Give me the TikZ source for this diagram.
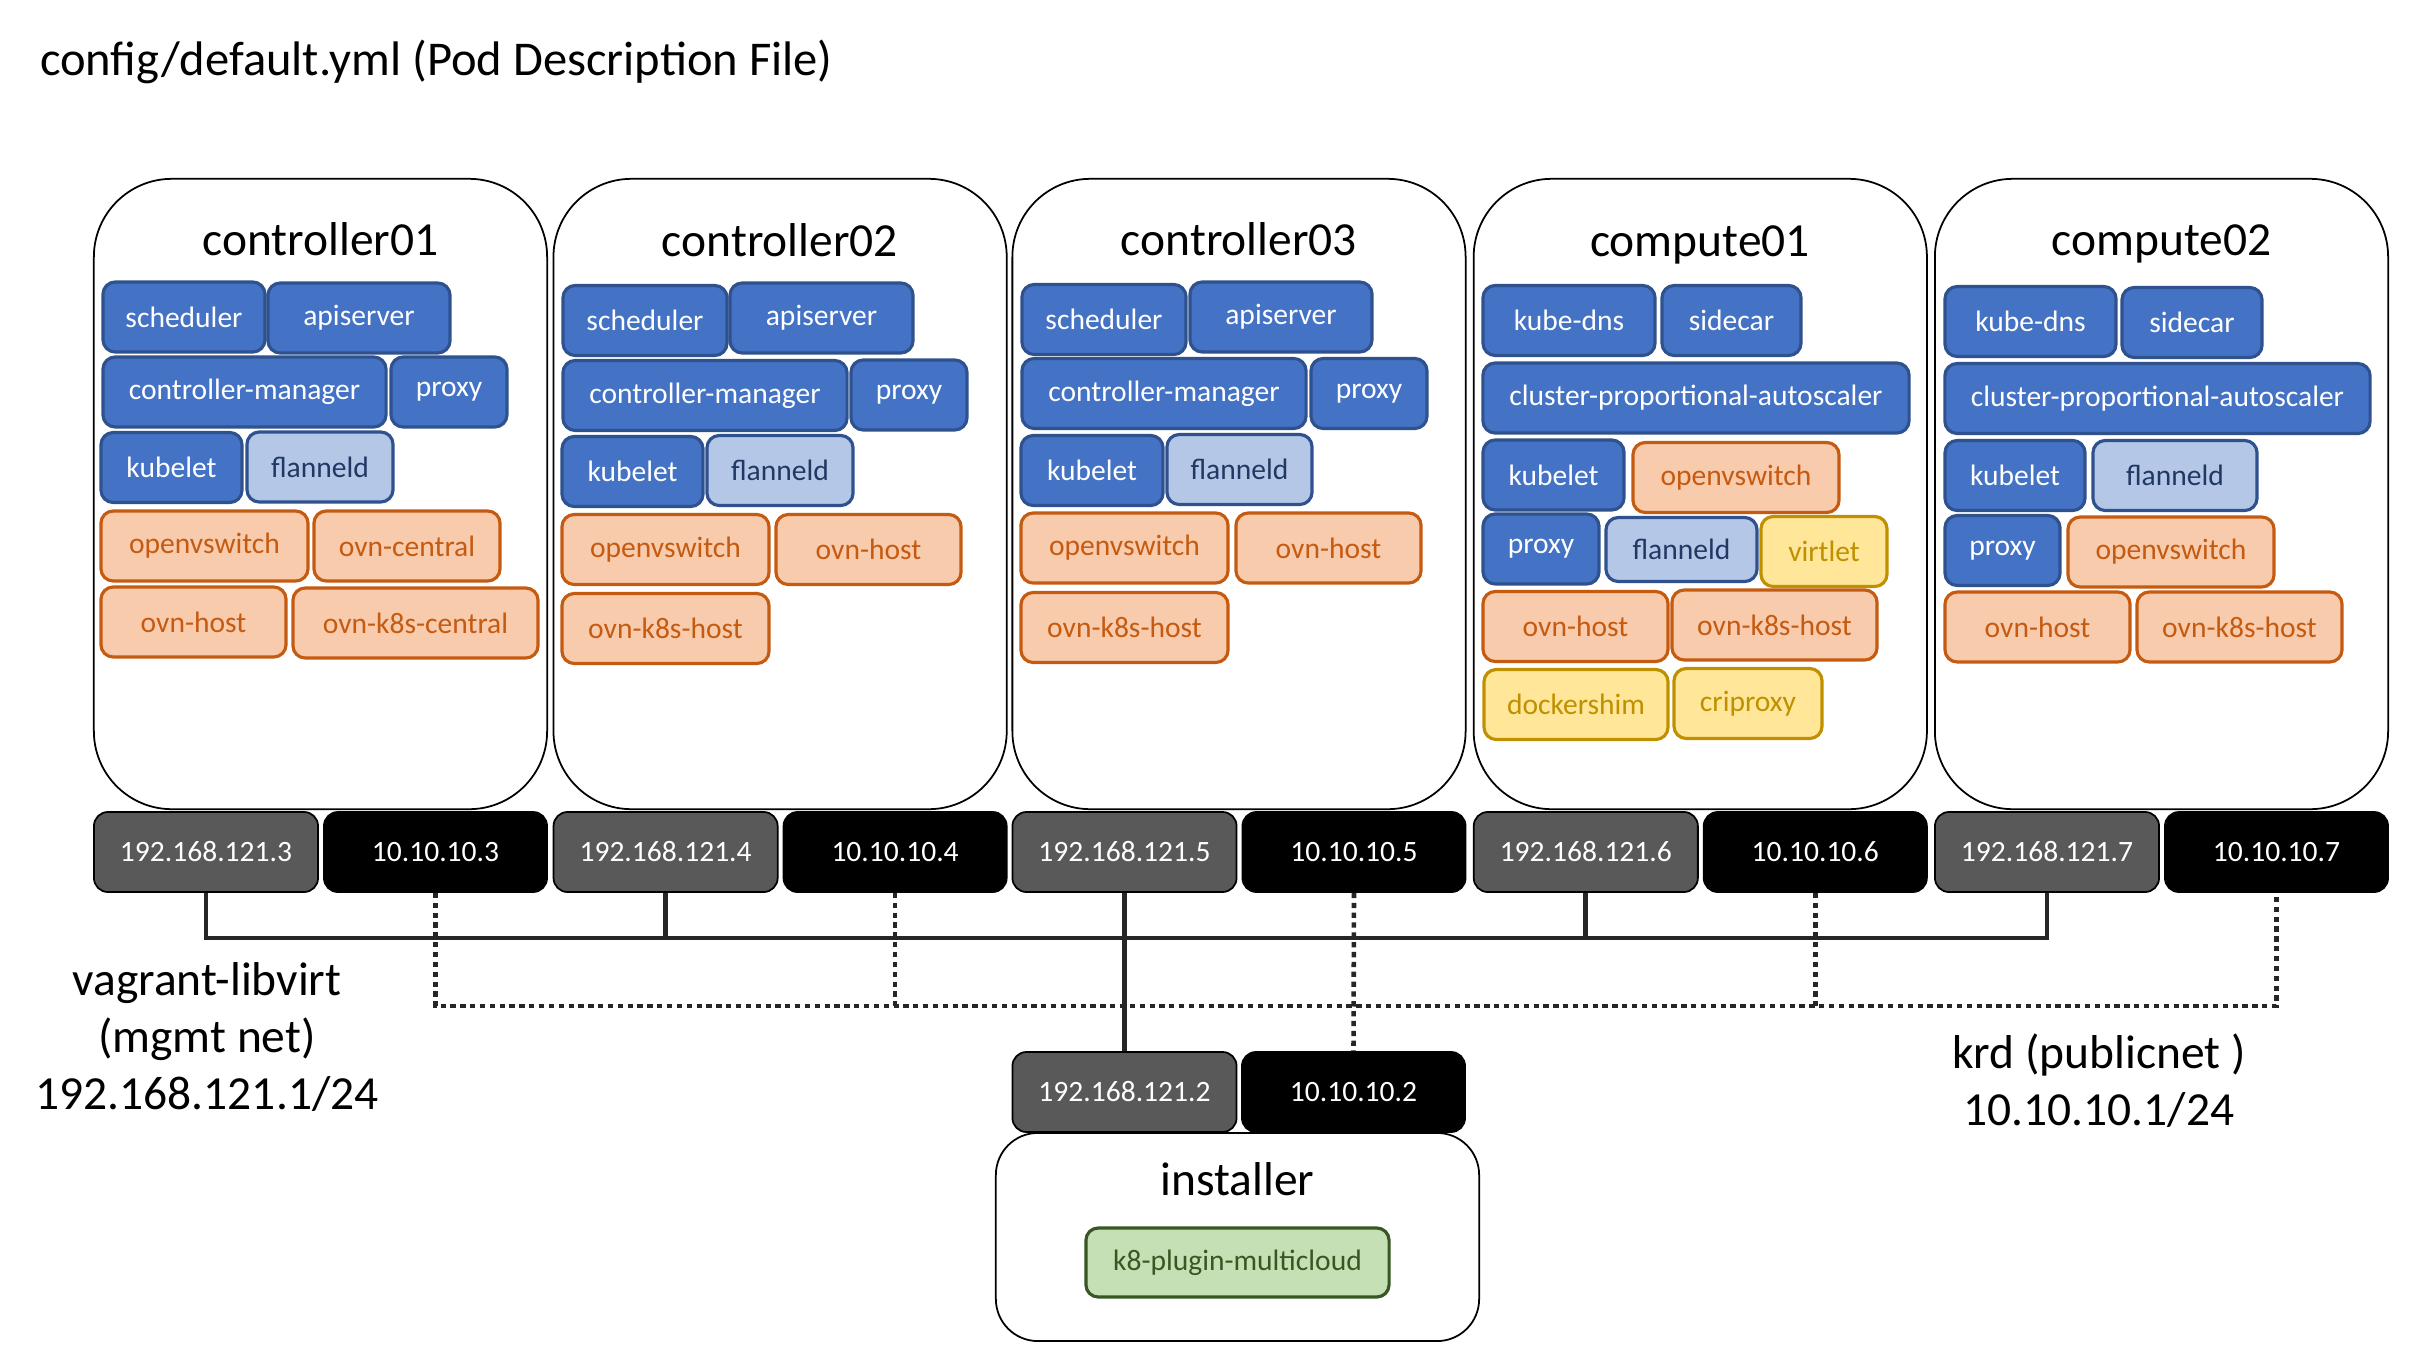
\documentclass[tikz,border=0pt]{standalone}
\usepackage{fontspec}
\setmainfont{Carlito}
\usepackage{tikz}
\newcommand\vmfont{\fontsize{13.5}{16.2}\selectfont}
\newcommand\podfont{\fontsize{8.4}{10}\selectfont}
\definecolor{node_blue}{RGB}{68,114,196}
\definecolor{edge_blue}{RGB}{47,82,143}
\definecolor{node_lblue}{RGB}{180,199,231}
\definecolor{text_lblue}{RGB}{32,56,100}
\definecolor{node_orange}{RGB}{248,203,173}
\definecolor{edge_orange}{RGB}{197,90,17}
\definecolor{node_yell}{RGB}{255,230,153}
\definecolor{edge_yell}{RGB}{191,144,0}
\definecolor{node_green}{RGB}{197,224,180}
\definecolor{edge_green}{RGB}{56,87,35}
\definecolor{ip_gray}{RGB}{89,89,89}
\definecolor{line_gray}{RGB}{38,38,38}

\begin{document}
\begin{tikzpicture}[x=0.01cm,y=-0.01cm,semithick]
    \tikzstyle{vm}=[draw=black,line width=0.5pt,rounded corners=0.78cm,fill=white,minimum width=4.53cm,minimum height=6.3cm,inner sep=0]
    \tikzstyle{vmtitle}=[anchor=base,font=\vmfont,text=black]
    \tikzstyle{pod}=[draw,rounded corners=3.5pt,line width=0.9pt,minimum height=0.7cm,inner sep=0,font=\podfont]
    \tikzstyle{podcore}=[style=pod,fill=node_blue,draw=edge_blue,text=white]
    \tikzstyle{podnet}=[style=pod,fill=node_lblue,draw=edge_blue,text=text_lblue]
    \tikzstyle{podovn}=[style=pod,fill=node_orange,draw=edge_orange,text=edge_orange]
    \tikzstyle{podrt}=[style=pod,fill=node_yell,draw=edge_yell,text=edge_yell]
    \tikzstyle{podplug}=[style=pod,fill=node_green,draw=edge_green,text=edge_green]
    \tikzstyle{ip}=[draw=black,line width=0.5pt,rounded corners=4pt,minimum width=2.24cm,minimum height=0.8cm,inner sep=0,font=\podfont,text=white]
    \tikzstyle{ipmgmt}=[style=ip,fill=ip_gray]
    \tikzstyle{ippub}=[style=ip,fill=black]
    \tikzstyle{mgmtline}=[draw=line_gray,line width=1.4pt]
    \tikzstyle{publine}=[draw=line_gray,line width=1.3pt,dash pattern=on 1.5pt off 1.3pt]
    \tikzstyle{netlabel}=[align=center,font=\vmfont,text=black]

    \useasboundingbox (0,0) rectangle (2432,1360);

    \node[anchor=base west,inner sep=0,font=\fontsize{13.8}{16.2}\selectfont] (title) at (39,75) {config/default.yml (Pod Description File)};

    % virtual machines
    \node[vm] (c01) at (320.5,494) {};
    \node[vm] (c02) at (780.1,494) {};
    \node[vm] (c03) at (1239,494) {};
    \node[vm] (cp01) at (1700.3,494) {};
    \node[vm] (cp02) at (2161.5,494) {};

    \node[vmtitle] (c01t) at (320.5,255) {controller01};
    \node[vmtitle] (c02t) at (780,256) {controller02};
    \node[vmtitle] (c03t) at (1239,255) {controller03};
    \node[vmtitle] (cp01t) at (1700,256) {compute01};
    \node[vmtitle] (cp02t) at (2161.5,255) {compute02};

    % controller01
    \node[podcore,minimum width=1.62cm] (c01a) at (184,317) {scheduler};
    \node[podcore,minimum width=1.82cm] (c01b) at (359,318) {apiserver};
    \node[podcore,minimum width=2.83cm] (c01c) at (244.5,392) {controller-manager};
    \node[podcore,minimum width=1.16cm] (c01d) at (449,392) {proxy};
    \node[podcore,minimum width=1.41cm] (c01e) at (171.5,467.5) {kubelet};
    \node[podnet,minimum width=1.46cm] (c01f) at (320,467) {flanneld};
    \node[podovn,minimum width=2.07cm] (c01g) at (204.5,546) {openvswitch};
    \node[podovn,minimum width=1.86cm] (c01h) at (407,546) {ovn-central};
    \node[podovn,minimum width=1.85cm] (c01i) at (193.5,622) {ovn-host};
    \node[podovn,minimum width=2.45cm] (c01j) at (415.5,623) {ovn-k8s-central};

    % controller02
    \node[podcore,minimum width=1.64cm] (c02a) at (645,320.5) {scheduler};
    \node[podcore,minimum width=1.83cm] (c02b) at (821.5,318) {apiserver};
    \node[podcore,minimum width=2.84cm] (c02c) at (705,395.5) {controller-manager};
    \node[podcore,minimum width=1.16cm] (c02d) at (909,395) {proxy};
    \node[podcore,minimum width=1.41cm] (c02e) at (632.5,471.5) {kubelet};
    \node[podnet,minimum width=1.46cm] (c02f) at (780,470.5) {flanneld};
    \node[podovn,minimum width=2.07cm] (c02g) at (665.5,549.5) {openvswitch};
    \node[podovn,minimum width=1.85cm] (c02h) at (868.5,549.5) {ovn-host};
    \node[podovn,minimum width=2.07cm] (c02i) at (665.5,628.5) {ovn-k8s-host};

    % controller03
    \node[podcore,minimum width=1.64cm] (c03a) at (1104,319.5) {scheduler};
    \node[podcore,minimum width=1.82cm] (c03b) at (1281,317) {apiserver};
    \node[podcore,minimum width=2.84cm] (c03c) at (1164,393.5) {controller-manager};
    \node[podcore,minimum width=1.16cm] (c03d) at (1369,393.5) {proxy};
    \node[podcore,minimum width=1.42cm] (c03e) at (1092,470.5) {kubelet};
    \node[podnet,minimum width=1.45cm] (c03f) at (1239.5,469.5) {flanneld};
    \node[podovn,minimum width=2.07cm] (c03g) at (1124.5,548) {openvswitch};
    \node[podovn,minimum width=1.85cm] (c03h) at (1328.5,548) {ovn-host};
    \node[podovn,minimum width=2.07cm] (c03i) at (1124.5,627.5) {ovn-k8s-host};

    % compute01
    \node[podcore,minimum width=1.72cm] (cp01a) at (1569,320.5) {kube-dns};
    \node[podcore,minimum width=1.39cm] (cp01b) at (1731.5,320.5) {sidecar};
    \node[podcore,minimum width=4.26cm] (cp01c) at (1696,398) {cluster-proportional-autoscaler};
    \node[podcore,minimum width=1.41cm] (cp01d) at (1553.5,475) {kubelet};
    \node[podovn,minimum width=2.06cm] (cp01e) at (1736,477.5) {openvswitch};
    \node[podcore,minimum width=1.16cm] (cp01f) at (1541,549) {proxy};
    \node[podnet,minimum width=1.51cm,minimum height=0.64cm] (cp01g) at (1681.5,549.5) {flanneld};
    \node[podrt,minimum width=1.26cm] (cp01h) at (1824,551.5) {virtlet};
    \node[podovn,minimum width=1.85cm] (cp01i) at (1575.5,626.5) {ovn-host};
    \node[podovn,minimum width=2.05cm] (cp01j) at (1774.5,625) {ovn-k8s-host};
    \node[podrt,minimum width=1.84cm] (cp01k) at (1576,704.5) {dockershim};
    \node[podrt,minimum width=1.48cm] (cp01l) at (1748,703.5) {criproxy};

    % compute02
    \node[podcore,minimum width=1.71cm] (cp02a) at (2030.5,321.5) {kube-dns};
    \node[podcore,minimum width=1.40cm] (cp02b) at (2192,322.5) {sidecar};
    \node[podcore,minimum width=4.25cm] (cp02c) at (2157.5,398.5) {cluster-proportional-autoscaler};
    \node[podcore,minimum width=1.40cm] (cp02d) at (2015,475.5) {kubelet};
    \node[podnet,minimum width=1.64cm] (cp02e) at (2175,475.5) {flanneld};
    \node[podcore,minimum width=1.15cm] (cp02f) at (2002.5,550.5) {proxy};
    \node[podovn,minimum width=2.06cm] (cp02g) at (2171,552) {openvswitch};
    \node[podovn,minimum width=1.85cm] (cp02h) at (2037.5,627) {ovn-host};
    \node[podovn,minimum width=2.05cm] (cp02i) at (2239.5,627) {ovn-k8s-host};

    % addresses
    \node[ipmgmt] (ip01m) at (206,852) {192.168.121.3};
    \node[ippub,minimum width=2.23cm] (ip01p) at (435.5,852) {10.10.10.3};
    \node[ipmgmt] (ip02m) at (665.6,852) {192.168.121.4};
    \node[ippub,minimum width=2.23cm] (ip02p) at (895.1,852) {10.10.10.4};
    \node[ipmgmt] (ip03m) at (1124.5,852) {192.168.121.5};
    \node[ippub,minimum width=2.23cm] (ip03p) at (1354,852) {10.10.10.5};
    \node[ipmgmt] (ip04m) at (1585.8,852) {192.168.121.6};
    \node[ippub,minimum width=2.23cm] (ip04p) at (1815.3,852) {10.10.10.6};
    \node[ipmgmt] (ip05m) at (2047,852) {192.168.121.7};
    \node[ippub,minimum width=2.23cm] (ip05p) at (2276.5,852) {10.10.10.7};

    % installer
    \node[vm,minimum width=4.83cm,minimum height=2.08cm,rounded corners=0.42cm] (ins) at (1237.5,1237) {};
    \node[vmtitle] (inst) at (1237.5,1195) {installer};
    \node[podplug,minimum width=3.03cm,minimum height=0.69cm] (insa) at (1237.5,1262.5) {k8-plugin-multicloud};
    \node[ipmgmt] (insm) at (1124.5,1092) {192.168.121.2};
    \node[ippub,minimum width=2.23cm] (insp) at (1353.5,1092) {10.10.10.2};

    % networks
    \coordinate (mgmtbus) at (0,938);
    \coordinate (pubbus) at (0,1006);
    \draw[publine] (ip01p.south) -- (ip01p.south |- pubbus) -- (ip05p.south |- pubbus) -- (ip05p.south);
    \draw[publine] (ip02p.south) -- (ip02p.south |- pubbus);
    \draw[publine] (ip04p.south) -- (ip04p.south |- pubbus);
    \draw[publine] (ip03p.south) -- (insp.north);
    \draw[mgmtline] (ip01m.south) -- (ip01m.south |- mgmtbus) -- (ip05m.south |- mgmtbus) -- (ip05m.south);
    \draw[mgmtline] (ip02m.south) -- (ip02m.south |- mgmtbus);
    \draw[mgmtline] (ip04m.south) -- (ip04m.south |- mgmtbus);
    \draw[mgmtline] (ip03m.south) -- (insm.north);

    \node[netlabel] (mgmtlbl) at (207,1037) {vagrant-libvirt\\(mgmt net)\\192.168.121.1/24};
    \node[netlabel] (publbl) at (2099,1081) {krd (publicnet )\\10.10.10.1/24};
\end{tikzpicture}
\end{document}
